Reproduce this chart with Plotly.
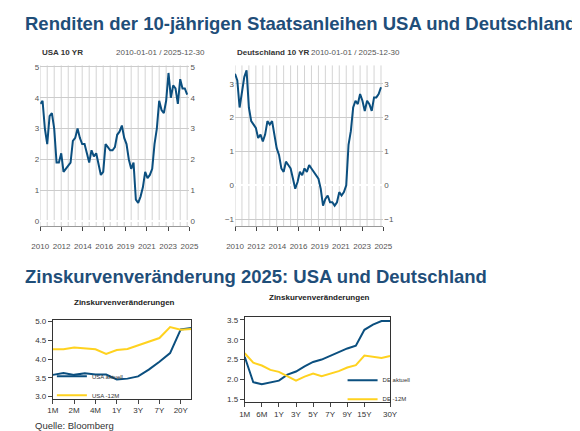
import plotly.graph_objects as go
import pandas as pd

# quarterly readings, 2010Q1 .. 2025Q4
quarters = pd.date_range('2010-01-01', '2025-12-30', freq='QS')
us10 = [3.8, 3.9, 3.0, 2.5, 3.4, 3.5, 3.0, 1.9, 1.9, 2.2, 1.6, 1.7, 1.8, 1.9, 2.6, 2.7,
        3.0, 2.7, 2.5, 2.5, 2.2, 1.9, 2.3, 2.1, 2.2, 1.8, 1.5, 1.6, 2.5, 2.4, 2.3, 2.3,
        2.4, 2.8, 2.9, 3.1, 2.7, 2.5, 2.0, 1.7, 1.9, 0.7, 0.6, 0.8, 1.1, 1.6, 1.4, 1.5,
        1.7, 2.5, 3.0, 3.9, 3.6, 3.5, 3.9, 4.8, 4.0, 4.4, 4.3, 3.8, 4.6, 4.3, 4.3, 4.1]
de10 = [3.3, 3.1, 2.3, 2.7, 3.2, 3.4, 2.3, 1.9, 1.8, 1.7, 1.4, 1.5, 1.3, 1.5, 1.9, 1.8,
        1.9, 1.5, 1.1, 0.9, 0.5, 0.4, 0.7, 0.6, 0.5, 0.2, -0.1, 0.1, 0.4, 0.3, 0.5, 0.4,
        0.6, 0.5, 0.4, 0.3, 0.2, -0.1, -0.6, -0.4, -0.3, -0.5, -0.5, -0.6, -0.5, -0.2, -0.3, -0.2,
        0.0, 1.2, 1.6, 2.3, 2.5, 2.4, 2.7, 2.5, 2.2, 2.5, 2.4, 2.2, 2.6, 2.6, 2.7, 2.9]
year_ticks = ['2010', '2012', '2014', '2016', '2019', '2021', '2023', '2025']

us_tenors = ['1M', '6W', '2M', '3M', '4M', '6M', '1Y', '2Y', '3Y', '5Y', '7Y', '10Y', '20Y', '30Y']
us_now = [3.58, 3.63, 3.58, 3.62, 3.59, 3.59, 3.46, 3.48, 3.54, 3.72, 3.93, 4.16, 4.79, 4.83]
us_12m = [4.26, 4.26, 4.31, 4.28, 4.26, 4.14, 4.24, 4.27, 4.37, 4.47, 4.56, 4.85, 4.78, 4.80]
us_labels = ['1M', '2M', '4M', '1Y', '3Y', '7Y', '20Y']

de_tenors = ['1M', '3M', '6M', '9M', '1Y', '2Y', '3Y', '4Y', '5Y', '6Y', '7Y', '8Y', '9Y',
             '10Y', '15Y', '20Y', '25Y', '30Y']
de_now = [2.57, 1.93, 1.88, 1.92, 1.97, 2.12, 2.20, 2.33, 2.44, 2.50, 2.60, 2.70, 2.78,
          2.85, 3.25, 3.38, 3.47, 3.47]
de_12m = [2.66, 2.42, 2.35, 2.24, 2.19, 2.07, 1.97, 2.07, 2.15, 2.08, 2.14, 2.21, 2.30,
          2.36, 2.60, 2.57, 2.54, 2.59]
de_labels = ['1M', '6M', '1Y', '3Y', '5Y', '7Y', '9Y', '15Y', '30Y']

W, H = 580, 431
BLUE = '#0b4f7f'
YEL = '#ffd21f'
TITLE = '#1f4e79'


def fx(px):
    return px / W


def fy(py):
    return 1 - py / H


fig = go.Figure()

# top panels: price history, ticks on both sides
tick_pos = pd.date_range('2010-01-01', '2025-12-30', periods=len(year_ticks))
for i, (vals, x0, x1, rng, dt) in enumerate([(us10, 24, 178, [-0.15, 5.05], 1),
                                              (de10, 225, 378, [-1.2, 3.55], 1)]):
    n = i + 1
    fig.add_trace(go.Scatter(x=quarters, y=vals, mode='lines', showlegend=False,
                             line=dict(color=BLUE, width=2),
                             xaxis='x%d' % n, yaxis='y%d' % n))
    fig.add_trace(go.Scatter(x=quarters, y=vals, mode='lines', showlegend=False,
                             line=dict(width=0), hoverinfo='skip',
                             xaxis='x%d' % n, yaxis='y%d' % (n + 4)))
    fig.layout['xaxis%d' % n] = dict(domain=[fx(x0), fx(x1)], anchor='y%d' % n,
                                     range=['2010-01-01', '2025-12-30'],
                                     tickvals=tick_pos, ticktext=year_ticks,
                                     showgrid=False, ticks='outside', ticklen=4,
                                     ticklabelstandoff=8,
                                     tickfont=dict(size=8, color='#555'), showline=True,
                                     linecolor='#999')
    fig.layout['yaxis%d' % n] = dict(domain=[fy(218), fy(55)], anchor='x%d' % n, range=rng,
                                     dtick=dt, gridcolor='#cccccc', zeroline=False,
                                     tickfont=dict(size=8, color='#555'))
    fig.layout['yaxis%d' % (n + 4)] = dict(overlaying='y%d' % n, side='right', range=rng,
                                           dtick=dt, showgrid=False, anchor='x%d' % n,
                                           tickfont=dict(size=8, color='#555'))
    for d in pd.date_range('2010-01-01', '2025-12-30', freq='9MS'):
        fig.add_shape(type='line', x0=d, x1=d, y0=rng[0], y1=rng[1], layer='below',
                      xref='x%d' % n, yref='y%d' % n, line=dict(color='#d4d4d4', width=1))

# bottom panels: yield curves
for j, (ten, now, ago, labs, x0, x1, y0, y1, rng, names, leg) in enumerate([
        (us_tenors, us_now, us_12m, us_labels, 37, 180, 313, 393, [2.95, 5.05],
         ['USA aktuell', 'USA -12M'], (36, 380)),
        (de_tenors, de_now, de_12m, de_labels, 235, 385, 310, 397, [1.42, 3.58],
         ['DE aktuell', 'DE -12M'], (336, 384))]):
    n = j + 3
    lg = 'legend' if j == 0 else 'legend2'
    fig.add_trace(go.Scatter(x=ten, y=now, mode='lines', name=names[0],
                             line=dict(color=BLUE, width=2), legend=lg,
                             xaxis='x%d' % n, yaxis='y%d' % n))
    fig.add_trace(go.Scatter(x=ten, y=ago, mode='lines', name=names[1],
                             line=dict(color=YEL, width=2), legend=lg,
                             xaxis='x%d' % n, yaxis='y%d' % n))
    fig.layout['xaxis%d' % n] = dict(domain=[fx(x0), fx(x1)], anchor='y%d' % n, type='category',
                                     tickvals=labs, ticks='outside', ticklen=4, showgrid=False,
                                     showline=True, mirror=True, linecolor='#333',
                                     tickfont=dict(size=8, color='#333'))
    fig.layout['yaxis%d' % n] = dict(domain=[fy(y1), fy(y0)], anchor='x%d' % n, range=rng,
                                     dtick=0.5, tickformat='.1f', showgrid=False, zeroline=False,
                                     ticks='outside', ticklen=4, showline=True, mirror=True,
                                     linecolor='#333', tickfont=dict(size=8, color='#333'))
    fig.layout[lg] = dict(
        x=fx(leg[0]), y=fy(leg[1]), xanchor='left', yanchor='middle', bgcolor='rgba(0,0,0,0)',
        font=dict(size=6, color='#333'), tracegroupgap=0, itemwidth=30)

ann = [
    dict(x=fx(6), y=fy(13), text='<b>Renditen der 10-jährigen Staatsanleihen USA und Deutschland</b>',
         font=dict(size=18.5, color=TITLE)),
    dict(x=fx(6), y=fy(269), text='<b>Zinskurvenveränderung 2025: USA und Deutschland</b>',
         font=dict(size=18.5, color=TITLE)),
    dict(x=fx(24), y=fy(42), text='<b>USA 10 YR</b>', font=dict(size=8, color='#333')),
    dict(x=fx(100), y=fy(42), text='2010-01-01 / 2025-12-30', font=dict(size=8, color='#555')),
    dict(x=fx(225), y=fy(42), text='<b>Deutschland 10 YR</b>', font=dict(size=8, color='#333')),
    dict(x=fx(301), y=fy(42), text='2010-01-01 / 2025-12-30', font=dict(size=8, color='#555')),
    dict(x=fx(57), y=fy(296), text='<b>Zinskurvenveränderungen</b>', font=dict(size=8, color='#222')),
    dict(x=fx(258), y=fy(291), text='<b>Zinskurvenveränderungen</b>', font=dict(size=8, color='#222')),
    dict(x=fx(17), y=fy(420), text='Quelle: Bloomberg', font=dict(size=9.5, color='#333')),
]
for a in ann:
    a.update(xref='paper', yref='paper', xanchor='left', yanchor='middle', showarrow=False,
             font=dict(family='Arial', **a['font']))
fig.update_layout(width=W, height=H, margin=dict(l=0, r=0, t=0, b=0), annotations=ann,
                  paper_bgcolor='white', plot_bgcolor='white',
                  font=dict(family='Arial'))
fig.write_html('out.html')
